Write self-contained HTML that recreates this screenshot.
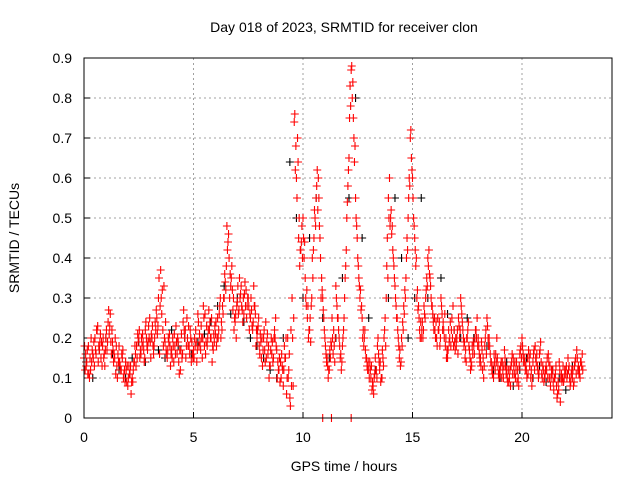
<!DOCTYPE html>
<html><head><meta charset="utf-8">
<style>
html,body{margin:0;padding:0;background:#fff;}
svg{display:block;font-family:"Liberation Sans",sans-serif;}
</style></head>
<body>
<svg id="chart" width="640" height="480" viewBox="0 0 640 480" xmlns="http://www.w3.org/2000/svg">
<text x="344" y="32" font-size="14" text-anchor="middle">Day 018 of 2023, SRMTID for receiver clon</text>
<text x="344" y="471" font-size="14" text-anchor="middle">GPS time / hours</text>
<text transform="translate(19,238) rotate(-90)" font-size="14" text-anchor="middle">SRMTID / TECUs</text>
<g id="grid"></g>
<g id="ticks"></g>
<g id="black"></g>
<g id="red"></g>
<rect x="84" y="58" width="528" height="360" fill="none" stroke="#000" stroke-width="1"/>
</svg>
<script>
const xTicks=[0,5,10,15,20];
const yTicks=[0,0.1,0.2,0.3,0.4,0.5,0.6,0.7,0.8,0.9];
const redA=[0.15,0.13,0.18,0.12,0.16,0.2,0.22,0.17,0.19,0.15,
0.2,0.24,0.26,0.19,0.15,0.13,0.18,0.12,0.1,0.14,
0.08,0.11,0.1,0.14,0.18,0.2,0.16,0.19,0.22,0.17,
0.25,0.2,0.18,0.27,0.3,0.37,0.22,0.19,0.15,0.21,
0.17,0.14,0.23,0.19,0.12,0.16,0.2,0.25,0.18,0.14,
0.17,0.22,0.26,0.19,0.15,0.18,0.23,0.27,0.2,0.17,
0.21,0.25,0.28,0.22,0.3,0.38,0.46,0.33,0.27,0.24,
0.29,0.35,0.28,0.26,0.32,0.3,0.25,0.22,0.28,0.2,
0.18,0.15,0.2,0.24,0.16,0.13,0.19,0.22,0.17,0.12,
0.1,0.08,0.15,0.2,0.05,0.3,0.74,0.6,0.45,0.42,
0.5,0.35,0.25,0.22,0.3,0.45,0.55,0.6,0.4,0.3,
0.2,0.15,0.12,0.18,0.22,0.33,0.25,0.15,0.18,0.3,
0.5,0.65,0.87,0.75,0.55,0.4,0.3,0.25,0.2,0.15,
0.12,0.1,0.08,0.15,0.18,0.12,0.1,0.2,0.3,0.55,
0.5,0.42,0.33,0.25,0.15,0.2,0.28,0.35,0.5,0.7,
0.6,0.45,0.3,0.25,0.2,0.22,0.3,0.4,0.35,0.28,
0.25,0.2,0.22,0.3,0.24,0.18,0.15,0.2,0.25,0.22,
0.18,0.25,0.3,0.22,0.15,0.2,0.17,0.13,0.18,0.22,
0.2,0.15,0.12,0.18,0.25,0.2,0.14,0.1,0.16,0.13,
0.11,0.14,0.17,0.12,0.09,0.13,0.15,0.1,0.12,0.16,
0.2,0.15,0.12,0.17,0.1,0.14,0.18,0.13,0.16,0.11,
0.09,0.13,0.16,0.08,0.12,0.1,0.05,0.14,0.11,0.09,
0.12,0.15,0.08,0.1,0.13,0.17,0.11,0.14];
const redB=[0.12,0.17,0.1,0.14,0.19,0.16,0.14,0.21,0.18,0.13,
0.17,0.21,0.16,0.14,0.11,0.16,0.13,0.15,0.12,0.09,
0.13,0.06,0.12,0.16,0.21,0.15,0.18,0.14,0.2,0.23,
0.15,0.18,0.24,0.21,0.16,0.26,0.33,0.17,0.2,0.13,
0.2,0.18,0.16,0.11,0.21,0.27,0.15,0.18,0.22,0.16,
0.2,0.14,0.18,0.23,0.28,0.16,0.2,0.24,0.14,0.19,
0.18,0.22,0.2,0.26,0.34,0.42,0.3,0.38,0.22,0.2,
0.26,0.31,0.24,0.34,0.28,0.22,0.27,0.33,0.18,0.23,
0.21,0.13,0.17,0.19,0.1,0.2,0.15,0.25,0.14,0.09,
0.13,0.18,0.06,0.12,0.22,0.08,0.62,0.7,0.38,0.48,
0.4,0.28,0.2,0.19,0.35,0.5,0.62,0.48,0.35,0.25,
0.16,0.1,0.15,0.2,0.14,0.28,0.2,0.12,0.22,0.38,
0.58,0.83,0.8,0.64,0.48,0.35,0.27,0.22,0.17,0.12,
0.14,0.07,0.1,0.12,0.16,0.09,0.15,0.25,0.45,0.6,
0.46,0.38,0.28,0.2,0.13,0.24,0.32,0.45,0.6,0.65,
0.5,0.38,0.27,0.2,0.24,0.26,0.35,0.42,0.3,0.24,
0.2,0.25,0.18,0.26,0.2,0.15,0.22,0.18,0.28,0.17,
0.22,0.2,0.26,0.18,0.14,0.24,0.12,0.16,0.2,0.25,
0.16,0.19,0.1,0.22,0.2,0.16,0.11,0.14,0.2,0.1,
0.14,0.1,0.13,0.09,0.12,0.16,0.11,0.14,0.08,0.18,
0.16,0.12,0.15,0.13,0.08,0.17,0.14,0.1,0.19,0.13,
0.11,0.15,0.1,0.12,0.07,0.13,0.09,0.04,0.1,0.12,
0.1,0.13,0.11,0.08,0.15,0.12,0.1,0.16];
const redC=[0.18,0.14,0.11,0.2,0.15,0.17,0.23,0.19,0.13,0.16,
0.22,0.27,0.19,0.17,0.2,0.1,0.14,0.16,0.11,0.12,
0.1,0.13,0.09,0.18,0.15,0.22,0.2,0.17,0.24,0.19,
0.19,0.23,0.2,0.25,0.35,0.3,0.18,0.24,0.17,0.18,
0.15,0.21,0.19,0.14,0.17,0.24,0.22,0.2,0.16,0.19,
0.15,0.19,0.24,0.17,0.2,0.26,0.18,0.22,0.25,0.21,
0.24,0.2,0.3,0.28,0.36,0.48,0.4,0.35,0.3,0.26,
0.33,0.3,0.27,0.31,0.25,0.28,0.3,0.24,0.26,0.22,
0.16,0.2,0.22,0.15,0.18,0.17,0.14,0.2,0.1,0.15,
0.16,0.12,0.2,0.1,0.03,0.2,0.76,0.55,0.5,0.44,
0.45,0.3,0.28,0.25,0.4,0.52,0.58,0.55,0.3,0.27,
0.18,0.13,0.17,0.25,0.18,0.3,0.22,0.16,0.2,0.35,
0.54,0.75,0.88,0.7,0.5,0.38,0.32,0.2,0.22,0.13,
0.1,0.13,0.06,0.12,0.2,0.14,0.17,0.22,0.38,0.5,
0.52,0.4,0.3,0.22,0.17,0.18,0.26,0.4,0.55,0.72,
0.55,0.42,0.32,0.22,0.22,0.28,0.32,0.38,0.33,0.26,
0.22,0.18,0.24,0.28,0.22,0.2,0.17,0.24,0.2,0.19,
0.2,0.23,0.28,0.2,0.17,0.22,0.15,0.18,0.16,0.2,
0.18,0.13,0.15,0.2,0.23,0.18,0.12,0.16,0.14,0.11,
0.13,0.12,0.15,0.1,0.1,0.14,0.13,0.12,0.1,0.17,
0.18,0.14,0.1,0.15,0.12,0.16,0.15,0.12,0.17,0.1,
0.1,0.12,0.14,0.1,0.09,0.11,0.06,0.12,0.09,0.1,
0.13,0.12,0.09,0.12,0.14,0.15,0.12,0.13];
const redD=[0.16,0.11,0.15,0.17,0.13,0.22,0.18,0.15,0.2,0.17,
0.19,0.23,0.22,0.16,0.18,0.14,0.12,0.17,0.09,0.13,
0.11,0.09,0.14,0.13,0.19,0.17,0.21,0.15,0.18,0.2,
0.21,0.16,0.22,0.23,0.28,0.32,0.2,0.16,0.19,0.16,
0.18,0.16,0.2,0.17,0.15,0.22,0.18,0.23,0.2,0.15,
0.18,0.17,0.21,0.2,0.25,0.19,0.22,0.2,0.18,0.23,
0.2,0.26,0.24,0.3,0.32,0.44,0.36,0.32,0.25,0.28,
0.27,0.33,0.3,0.28,0.3,0.26,0.23,0.28,0.22,0.25,
0.19,0.17,0.14,0.21,0.13,0.16,0.2,0.18,0.12,0.14,
0.12,0.15,0.1,0.16,0.08,0.25,0.68,0.64,0.42,0.4,
0.44,0.32,0.22,0.28,0.42,0.48,0.52,0.45,0.32,0.22,
0.14,0.12,0.19,0.16,0.2,0.25,0.18,0.14,0.25,0.42,
0.62,0.78,0.84,0.68,0.45,0.33,0.28,0.18,0.15,0.14,
0.12,0.09,0.11,0.1,0.14,0.1,0.13,0.18,0.35,0.48,
0.48,0.35,0.25,0.18,0.14,0.22,0.3,0.42,0.58,0.62,
0.48,0.4,0.28,0.24,0.2,0.25,0.33,0.36,0.28,0.22,
0.24,0.22,0.2,0.22,0.26,0.17,0.19,0.22,0.18,0.2,
0.16,0.22,0.24,0.19,0.2,0.18,0.14,0.19,0.22,0.18,
0.14,0.17,0.13,0.16,0.18,0.14,0.13,0.12,0.15,0.12,
0.1,0.13,0.11,0.12,0.08,0.11,0.14,0.09,0.13,0.15,
0.14,0.13,0.11,0.16,0.1,0.12,0.16,0.11,0.14,0.12,
0.12,0.1,0.13,0.11,0.1,0.08,0.07,0.1,0.13,0.11,
0.11,0.1,0.12,0.09,0.11,0.13,0.14,0.12];
const redZeroTimes=[10.9,11.3,12.2];
const blackVals=[0.14,0.1,0.17,0.2,0.16,0.12,0.1,0.15,0.19,0.14,
0.2,0.17,0.15,0.22,0.18,0.2,0.16,0.19,0.21,0.24,
0.28,0.33,0.26,0.3,0.24,0.2,0.18,0.15,0.12,0.1,
0.2,0.64,0.5,0.3,0.45,0.55,0.25,0.15,0.2,0.35,
0.55,0.8,0.45,0.25,0.12,0.1,0.3,0.55,0.4,0.2,
0.3,0.55,0.3,0.25,0.35,0.26,0.22,0.2,0.25,0.2,
0.15,0.18,0.12,0.1,0.14,0.08,0.12,0.15,0.1,0.13,
0.09,0.12,0.1,0.07,0.13,0.12];
const x=v=>84+v*21.9;
const y=v=>418-v*400;
const NS='http://www.w3.org/2000/svg';
const grid=document.getElementById('grid'),ticks=document.getElementById('ticks');
function mk(tag,attrs,parent){const e=document.createElementNS(NS,tag);for(const k in attrs)e.setAttribute(k,attrs[k]);parent.appendChild(e);return e;}
xTicks.forEach(t=>{
 if(t>0){const g=mk('line',{x1:x(t),x2:x(t),y1:58,y2:418,stroke:'#a0a0a0','stroke-dasharray':'2,3'},grid);
 
 }
 const tk=mk('line',{x1:x(t),x2:x(t),y1:418,y2:412,stroke:'#000'},ticks);
 
 
 const l=mk('text',{x:x(t),y:442,'font-size':14,'text-anchor':'middle'},ticks);l.textContent=t;
 
 
});
yTicks.forEach(t=>{
 if(t>0&&t<0.9){const g=mk('line',{x1:84,x2:612,y1:y(t),y2:y(t),stroke:'#a0a0a0','stroke-dasharray':'2,3'},grid);
 
 }
 const tk=mk('line',{x1:84,x2:90,y1:y(t),y2:y(t),stroke:'#000'},ticks);
 
 
 const l=mk('text',{x:72,y:y(t)+5,'font-size':14,'text-anchor':'end'},ticks);l.textContent=String(t);
 
 
});
function cross(px,py,color,parent,name){
 const p=mk('path',{d:`M${px-4},${py}h8M${px},${py-4}v8`,stroke:color,'stroke-width':1.1,fill:'none'},parent);
 
 
}
const blk=document.getElementById('black'),red=document.getElementById('red');
blackVals.forEach((v,i)=>cross(x(i*0.3+0.1),y(v),'#000',blk,'black-point'));
redA.forEach((v,i)=>cross(x(i*0.1),y(v),'#ff0000',red,'red-point'));
redB.forEach((v,i)=>cross(x(i*0.1+0.05),y(v),'#ff0000',red,'red-point'));
redC.forEach((v,i)=>cross(x(i*0.1+0.025),y(v),'#ff0000',red,'red-point'));
redD.forEach((v,i)=>cross(x(i*0.1+0.075),y(v),'#ff0000',red,'red-point'));
redZeroTimes.forEach(t=>cross(x(t),y(0),'#ff0000',red,'red-zero-point'));
</script>
</body></html>
